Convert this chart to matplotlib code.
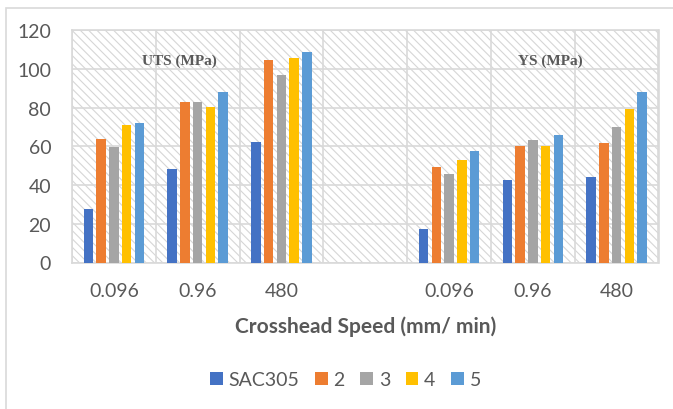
import matplotlib
matplotlib.use("Agg")
import matplotlib.pyplot as plt
from matplotlib.patches import Rectangle, Patch
import numpy as np

categories = ["0.096", "0.96", "480", "", "0.096", "0.96", "480"]
series_names = ["SAC305", "2", "3", "4", "5"]
sac305 = [27.4, 48.5, 62.2, 0, 17.4, 42.8, 44.1]
s2 = [63.6, 82.6, 104.3, 0, 49.3, 60.0, 61.6]
s3 = [59.5, 82.6, 96.9, 0, 45.7, 63.1, 69.7]
s4 = [70.9, 80.3, 105.7, 0, 52.9, 60.0, 79.0]
s5 = [71.8, 87.8, 108.6, 0, 57.3, 65.8, 87.8]
series = [sac305, s2, s3, s4, s5]
colors = ["#4472C4", "#ED7D31", "#A5A5A5", "#FFC000", "#5B9BD5"]
y_ticks = [0, 20, 40, 60, 80, 100, 120]

plt.rcParams['hatch.linewidth'] = 0.8
TXT = "#595959"
GRID = "#d9d9d9"

fig = plt.figure(figsize=(6.73, 4.10), dpi=100)
ax = fig.add_axes([72/673, 1-263.5/410, (658.5-72)/673, (263.5-31)/410])

# figure (chart area) border
fig.patches.append(Rectangle((6/673, -0.1), 1.2, 1-9/410+0.1, transform=fig.transFigure,
                             fill=False, edgecolor=GRID, linewidth=1.2, zorder=0))

# hatched plot area background
ax.add_patch(Rectangle((0, 0), 1, 1, transform=ax.transAxes, facecolor="white",
                       edgecolor="#d6d6d6", hatch="\\\\\\\\", linewidth=0, zorder=0))

x = np.arange(len(categories))
step = 0.152
width = 0.113
for i, (vals, c) in enumerate(zip(series, colors)):
    ax.bar(x + (i - 2) * step, vals, width=width, color=c, zorder=3, label=series_names[i])

ax.set_xlim(-0.5, len(categories) - 0.5)
ax.set_ylim(0, 120)
ax.set_yticks(y_ticks)
ax.set_xticks(x)
ax.set_xticklabels(categories)
ax.set_xticks(np.arange(len(categories) + 1) - 0.5, minor=True)

ax.grid(axis="y", which="major", color=GRID, linewidth=1.2, zorder=1)
ax.grid(axis="x", which="minor", color=GRID, linewidth=1.2, zorder=1)
ax.grid(axis="x", which="major", visible=False)
ax.set_axisbelow(True)

for s in ax.spines.values():
    s.set_color(GRID)
    s.set_linewidth(1.2)

ax.tick_params(axis="both", which="both", length=0)
ax.tick_params(axis="y", pad=15)
ax.tick_params(axis="x", pad=14)
for lab in ax.get_xticklabels() + ax.get_yticklabels():
    lab.set_fontfamily("Lato")
    lab.set_fontsize(14)
    lab.set_color(TXT)

ax.set_xlabel("Crosshead Speed (mm/ min)", fontfamily="Lato", fontweight="bold",
              fontsize=15, color=TXT, labelpad=12)

ax.text(0.78, 104.4, "UTS (MPa)", fontfamily="Liberation Serif", fontweight="bold",
        fontsize=11, color=TXT, ha="center", va="center", zorder=4)
ax.text(5.21, 104.4, "YS (MPa)", fontfamily="Liberation Serif", fontweight="bold",
        fontsize=11, color=TXT, ha="center", va="center", zorder=4)

handles = [Patch(facecolor=c, edgecolor="none") for c in colors]
fig.legend(handles, series_names, loc="center", bbox_to_anchor=(345.5/673, 1-381/410),
           ncol=5, frameon=False, prop={"family": "Lato", "size": 14},
           handlelength=0.65, handleheight=0.65, handletextpad=0.3, columnspacing=0.8,
           labelcolor=TXT)

fig.savefig("out.png", dpi=100)
